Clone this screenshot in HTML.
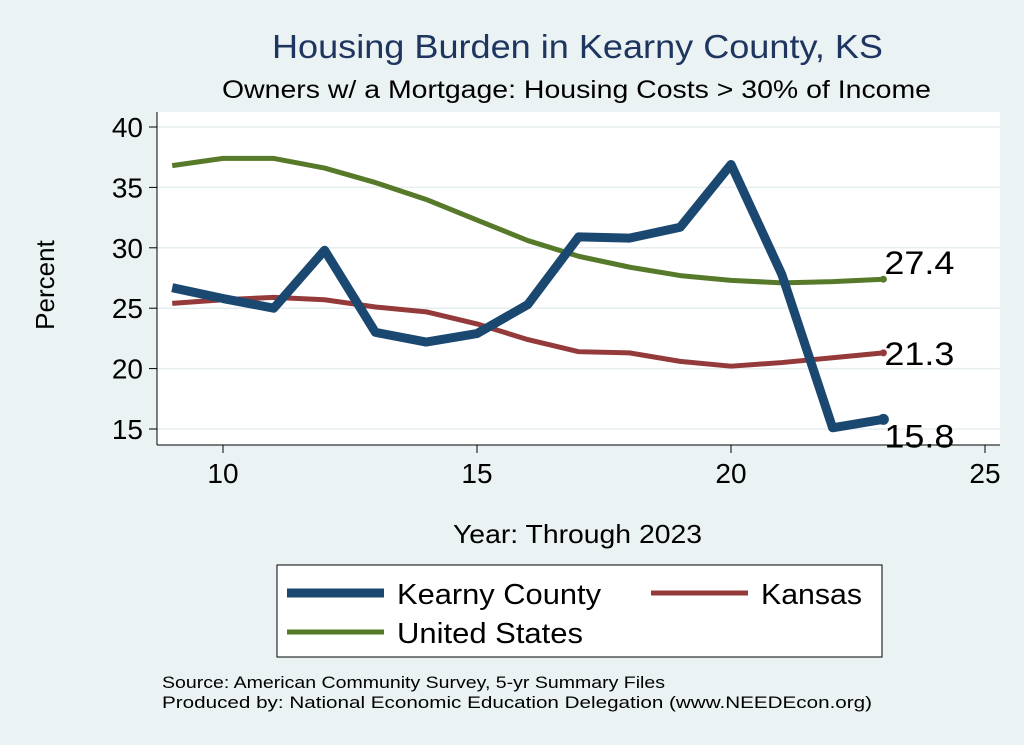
<!DOCTYPE html>
<html><head><meta charset="utf-8"><style>
body{margin:0;background:#eaf2f3;}
svg{display:block;font-family:"Liberation Sans",Arial,sans-serif;}
</style></head><body>
<svg width="1024" height="745" viewBox="0 0 1024 745">
<rect x="0" y="0" width="1024" height="745" fill="#eaf2f3"/>
<text x="272" y="58" font-size="33" fill="#1e3560" textLength="611" lengthAdjust="spacingAndGlyphs">Housing Burden in Kearny County, KS</text>
<text x="222" y="98" font-size="25" fill="#000" textLength="709" lengthAdjust="spacingAndGlyphs">Owners w/ a Mortgage: Housing Costs &gt; 30% of Income</text>
<rect x="157" y="112" width="843" height="333" fill="#fff"/>
<g id="grid"></g>
<g id="axes"></g>
<g id="series"></g>
<text x="54" y="285" text-anchor="middle" font-size="26" transform="rotate(-90 54 285)">Percent</text>
<text x="453" y="543" font-size="26" textLength="249" lengthAdjust="spacingAndGlyphs">Year: Through 2023</text>
<g>
<rect x="277" y="565" width="605" height="92" fill="#fff" stroke="#000" stroke-width="1"/>
<g><line x1="287" y1="593" x2="384" y2="593" stroke="#1a4870" stroke-width="9"/><text x="397" y="604" font-size="29" textLength="204" lengthAdjust="spacingAndGlyphs">Kearny County</text></g>
<g><line x1="651" y1="593" x2="748" y2="593" stroke="#953a3a" stroke-width="5"/><text x="761" y="604" font-size="29" textLength="101" lengthAdjust="spacingAndGlyphs">Kansas</text></g>
<g><line x1="287" y1="632" x2="384" y2="632" stroke="#577a2a" stroke-width="5"/><text x="397" y="643" font-size="29" textLength="186" lengthAdjust="spacingAndGlyphs">United States</text></g>
</g>
<text x="162" y="688" font-size="17" textLength="503" lengthAdjust="spacingAndGlyphs">Source: American Community Survey, 5-yr Summary Files</text>
<text x="162" y="708" font-size="17" textLength="710" lengthAdjust="spacingAndGlyphs">Produced by: National Economic Education Delegation (www.NEEDEcon.org)</text>
</svg>
<script>
const years=[9,10,11,12,13,14,15,16,17,18,19,20,21,22,23];
const kearny=[26.7,25.8,25.0,29.8,23.0,22.2,22.9,25.3,30.9,30.8,31.7,36.9,27.8,15.1,15.8];
const kansas=[25.4,25.7,25.9,25.7,25.1,24.7,23.7,22.4,21.4,21.3,20.6,20.2,20.5,20.9,21.3];
const us=[36.8,37.4,37.4,36.6,35.4,34.0,32.3,30.6,29.3,28.4,27.7,27.3,27.1,27.2,27.4];
const xTicks=[10,15,20,25];
const yTicks=[15,20,25,30,35,40];
const NS="http://www.w3.org/2000/svg";
function X(v){return 223+(v-10)*50.8;}
function Y(v){return 429-(v-15)*12.08;}
function mk(t,a,p){const e=document.createElementNS(NS,t);for(const k in a)e.setAttribute(k,a[k]);p.appendChild(e);return e;}
const grid=document.getElementById('grid'),axes=document.getElementById('axes'),ser=document.getElementById('series');
yTicks.forEach(v=>{
 const g=mk('line',{x1:157,x2:1000,y1:Y(v),y2:Y(v),stroke:'#e6eef0','stroke-width':1.5},grid);
 
 
 mk('line',{x1:149,x2:157,y1:Y(v),y2:Y(v),stroke:'#000','stroke-width':1},axes);
 const t=mk('text',{x:143,y:Y(v)+10,'text-anchor':'end','font-size':28},axes);t.textContent=v;
 
 
});
xTicks.forEach(v=>{
 mk('line',{x1:X(v),x2:X(v),y1:445,y2:453,stroke:'#000','stroke-width':1},axes);
 const t=mk('text',{x:X(v),y:483,'text-anchor':'middle','font-size':28},axes);t.textContent=v;
 
 
});
mk('line',{x1:157,x2:157,y1:112,y2:445,stroke:'#000','stroke-width':1},axes);
mk('line',{x1:157,x2:1000,y1:445,y2:445,stroke:'#000','stroke-width':1},axes);
function line(data,color,w,name,dy){
 const p=mk('polyline',{points:data.map((v,i)=>X(years[i])+','+Y(v)).join(' '),fill:'none',stroke:color,'stroke-width':w,'stroke-linejoin':'round'},ser);
 
 
 const l=data.length-1;
 mk('circle',{cx:X(years[l]),cy:Y(data[l]),r:w/2+1,fill:color},ser);
 const t=mk('text',{x:X(years[l])+1,y:Y(data[l])+dy,'font-size':32,textLength:70,lengthAdjust:'spacingAndGlyphs'},ser);t.textContent=data[l].toFixed(1);
 
 
}
line(us,'#577a2a',5,'line-united-states',-5);
line(kansas,'#953a3a',5,'line-kansas',12);
line(kearny,'#1a4870',9,'line-kearny-county',28);
</script>
</body></html>
